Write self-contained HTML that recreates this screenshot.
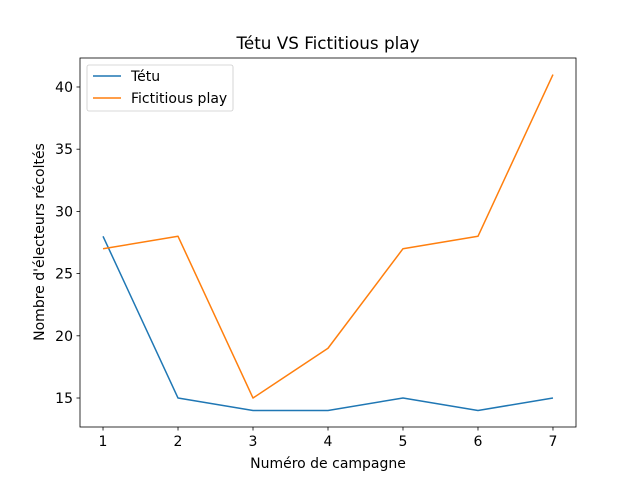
<!DOCTYPE html>
<html><head><meta charset="utf-8"><style>
body{margin:0;background:#fff;}
svg{font-family:"DejaVu Sans","Liberation Sans",sans-serif;}
</style></head><body>
<svg id="chart" width="640" height="480" xmlns="http://www.w3.org/2000/svg">
<rect width="640" height="480" fill="#fff"/>
<text x="328" y="49" font-size="16.8" text-anchor="middle">Tétu VS Fictitious play</text>
<g id="grid"></g>
<g id="series"></g>
<rect x="80" y="58" width="496" height="369" fill="none" stroke="#000" stroke-width="0.8"/>
<text x="328" y="468" font-size="14" text-anchor="middle">Numéro de campagne</text>
<text transform="translate(44,242) rotate(-90)" font-size="14" text-anchor="middle">Nombre d'électeurs récoltés</text>
<g>
<rect x="87" y="65" width="146" height="46" rx="2" fill="#fff" stroke="#ccc" stroke-width="0.8"/>
<line x1="93" y1="76" x2="121" y2="76" stroke="#1f77b4" stroke-width="1.5"/>
<text x="131" y="81" font-size="14">Tétu</text>
<line x1="93" y1="98" x2="121" y2="98" stroke="#ff7f0e" stroke-width="1.5"/>
<text x="131" y="103" font-size="14">Fictitious play</text>
</g>
</svg>
<script>
const campaigns=[1,2,3,4,5,6,7];
const tetu=[28,15,14,14,15,14,15];
const fictitious=[27,28,15,19,27,28,41];
const yTicks=[15,20,25,30,35,40];
const NS="http://www.w3.org/2000/svg";
const xMin=0.693,xMax=7.307,yMin=12.67,yMax=42.33;
function sx(v){return 80+(v-xMin)/(xMax-xMin)*496;}
function sy(v){return 427-(v-yMin)/(yMax-yMin)*369;}
const g=document.getElementById('grid');
function mk(tag,attrs,parent){const e=document.createElementNS(NS,tag);for(const k in attrs)e.setAttribute(k,attrs[k]);parent.appendChild(e);return e;}
campaigns.forEach(c=>{
  const t=mk('line',{x1:sx(c),x2:sx(c),y1:427,y2:430.5,stroke:'#000','stroke-width':0.8},g);
  
  
  const l=mk('text',{x:sx(c),y:446,'font-size':14,'text-anchor':'middle'},g);
  l.textContent=c;
  
  
});
yTicks.forEach(v=>{
  const t=mk('line',{x1:76.5,x2:80,y1:sy(v),y2:sy(v),stroke:'#000','stroke-width':0.8},g);
  
  
  const l=mk('text',{x:73,y:sy(v)+5,'font-size':14,'text-anchor':'end'},g);
  l.textContent=v;
  
  
});
const s=document.getElementById('series');
function line(data,color,name){
  const p=mk('polyline',{points:data.map((v,i)=>sx(campaigns[i])+','+sy(v)).join(' '),fill:'none',stroke:color,'stroke-width':1.5,'stroke-linejoin':'round'},s);
  
  
}
line(tetu,'#1f77b4','tetu-line');
line(fictitious,'#ff7f0e','fictitious-play-line');
</script>
</body></html>
